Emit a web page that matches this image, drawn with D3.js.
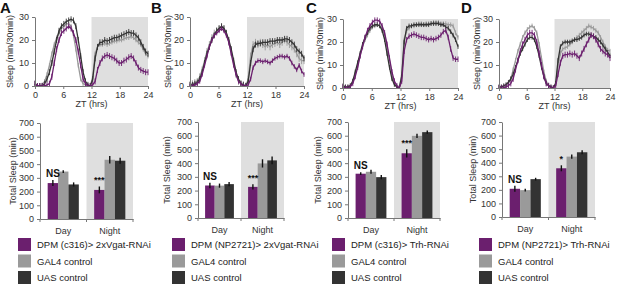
<!DOCTYPE html>
<html><head><meta charset="utf-8">
<script src="https://cdn.jsdelivr.net/npm/d3@7"></script>
<style>body{margin:0;background:#fff}svg{display:block}text{font-family:"Liberation Sans",Arial,sans-serif}</style>
</head><body><svg id="c" width="617" height="284"></svg>
<script>
// ---------- DATA ----------
const ztTicks = [0, 6, 12, 18, 24];
const sleepTicks = [0, 10, 20, 30];
const totalTicks = [0, 100, 200, 300, 400, 500, 600, 700];
const periods = ["Day", "Night"];
const seriesKeys = ["exp", "gal4", "uas"];
const seriesColors = {exp: "#6b1f6e", gal4: "#9a9a9a", uas: "#333333"};
const panelLetters = ["A", "B", "C", "D"];
const legendExp = ["DPM (c316)> 2xVgat-RNAi", "DPM (NP2721)> 2xVgat-RNAi", "DPM (c316)> Trh-RNAi", "DPM (NP2721)> Trh-RNAi"];
const legendCtrl = ["GAL4 control", "UAS control"];
const sigLabels = [["NS", "***"], ["NS", "***"], ["NS", "***"], ["NS", "*"]];

// sleep profiles, 48 half-hour bins (ZT 0 .. 23.5)
const lineA_exp = [1,0,0,0,0,0.5,1,4,10,16,20,23,24,25,26,25,23,20,15,9,3,1,0,0,
  0.5,2,7,10,12,13,13.5,13,12.5,12,11,10,10,11,11.5,12.5,13,12,10,8,7,6.5,6,6];
const lineA_gal4 = [1,0,0,0.5,2,5,9,14,18,21,23,25,26,27,27,26,22,16,9,3,1,0.5,0,0,
  4,14,17,18,18,18.5,18,18.5,19,19.5,19.5,20,20,20.5,21,21,21.5,21,20,19,18,16,14,13];
const lineA_uas = [1,0,0,0,1,3,6,10,15,20,24,26,27,28,28.5,29,28.5,26,20,13,6,2,0.5,0,
  3,12,17,19,19,20,19.5,20,20.5,21,21,21.5,22,22.5,23,23.5,23,23,22,21,19,17,15,14];

const lineB_exp = [0,0,0.5,1,2,5,9,13,17,20,22,23,24,25,24,22,19,14,9,5,2,1,0,0,
  0.5,3,8,10,11,11,10.5,11,10.5,10,11,12,12.5,13,13,12.5,13,12,10,8.5,7,9,6.5,5];
const lineB_gal4 = [0.5,1,1.5,2,4,7,11,15,18,21,23,24,25,25.5,25,23,19,15,10,5,2,1,0.5,0,
  3,13,18,19,18,19,18,17,18,17,18,18.5,19,18,19,20,19,18,17,16,14,12,11,11];
const lineB_uas = [0.5,0.5,1,1.5,3,6,10,14,17,20,22,24,25,26,25,23,20,16,11,6,3,1,0.5,0,
  2,10,16,18,18.5,18.5,19,19,19,19.5,19.5,19.5,20,20,20,20.5,20.5,20,19,18,16,15,14,12];

const lineC_exp = [0.5,0,0,0.5,2,5,9,14,18,22,25,27,28.5,29.5,29.5,29,27,24,19,13,7,3,1,0,
  3,16,21,22.5,23,23.5,23,22.5,22,22,21.5,21,21.5,21,21.5,22,23,24.5,25,22,17,13,12.5,12.5];
const lineC_gal4 = [0.5,0.5,0.5,1,3,6,10,14,18,21,23,25,26.5,27,27.5,27,26,23,18,12,6,2,0.5,0,
  6,21,25,26,27,27,27.5,28,28,27.5,28,28,28,28.5,28.5,28.5,28,28,28,27.5,27.5,27,24,22];
const lineC_uas = [1,0.5,0.5,1,3,7,11,15,19,22,24,26,27,27.5,27.5,27,25,21,15,9,4,1.5,0.5,0,
  5,20,26,27,27,27.5,27.5,27.5,27.5,27.5,27.5,27.5,28,28,28,28,27.5,27.5,26.5,26,24.5,23,21,18];

const lineD_exp = [0,0,0,0.5,1,2,4,8,12,16,19,21,23,24,24,23,20,15,10,5,2,1,0,0,
  1,6,11,14,14.5,14.5,15,14.5,15,14,13,15,17,19,21,23,22.5,21,19,17,16,15,14.5,13];
const lineD_gal4 = [0.5,0.5,0.5,1,2,4,8,12,16,19,22,24,25.5,26.5,27,26,24,19,13,7,3,1,0.5,0,
  2,10,15,17,17.5,18,19,20,21,22,23,24,25,26,27,26.5,26,25,24,22,20,18,16.5,16];
const lineD_uas = [0.5,0.5,1,1.5,2.5,4,6,9,12,15,17,19,21,22,22,21,18,14,9,5,2,1,0.5,0,
  2,12,18,19.5,20,20,20,20.5,21,21,21.5,22,23,23.5,23.5,23,22.5,22,21,20,18.5,17,15.5,14];

// per-series SEM of the sleep profiles (min/30min)
const semA = [1.3, 1.0, 1.3];
const semB = [1.0, 1.5, 1.3];
const semC = [1.2, 1.0, 1.0];
const semD = [1.3, 1.0, 1.0];

// total sleep (min): [Day, Night]
const barA_exp = [262, 212], barA_gal4 = [346, 432], barA_uas = [252, 425];
const errA_exp = [22, 25], errA_gal4 = [10, 28], errA_uas = [15, 22];
const barB_exp = [237, 227], barB_gal4 = [236, 398], barB_uas = [247, 420];
const errB_exp = [20, 20], errB_gal4 = [15, 30], errB_uas = [15, 28];
const barC_exp = [323, 472], barC_gal4 = [337, 599], barC_uas = [298, 626];
const errC_exp = [10, 30], errC_gal4 = [15, 15], errC_uas = [15, 12];
const barD_exp = [208, 359], barD_gal4 = [198, 445], barD_uas = [279, 477];
const errD_exp = [22, 22], errD_gal4 = [10, 15], errD_uas = [10, 15];

const lineData = [[lineA_exp, lineA_gal4, lineA_uas],[lineB_exp, lineB_gal4, lineB_uas],
  [lineC_exp, lineC_gal4, lineC_uas],[lineD_exp, lineD_gal4, lineD_uas]];
const semData = [semA, semB, semC, semD];
const barData = [[barA_exp, barA_gal4, barA_uas],[barB_exp, barB_gal4, barB_uas],
  [barC_exp, barC_gal4, barC_uas],[barD_exp, barD_gal4, barD_uas]];
const errData = [[errA_exp, errA_gal4, errA_uas],[errB_exp, errB_gal4, errB_uas],
  [errC_exp, errC_gal4, errC_uas],[errD_exp, errD_gal4, errD_uas]];

// ---------- LAYOUT ----------
const layout = [
  {lx:0,   line:{x0:35,  x1:148, y0:17, y1:86, ylx:10},  bar:{x0:40,  x1:133, y0:123, y1:219, ylx:13},  legX:18},
  {lx:151, line:{x0:190, x1:304, y0:17, y1:86, ylx:168}, bar:{x0:198, x1:284, y0:122, y1:218, ylx:167}, legX:172},
  {lx:306, line:{x0:343, x1:458, y0:19, y1:88, ylx:320}, bar:{x0:348, x1:440, y0:122, y1:218, ylx:318}, legX:332},
  {lx:461, line:{x0:499, x1:610, y0:19, y1:88, ylx:477}, bar:{x0:502, x1:595, y0:122, y1:217, ylx:473}, legX:479}
];
const shadeColor = "#dfdfdf", axisColor = "#777", textColor = "#333";

const svg = d3.select("#c");

function styleAxis(g) {
  g.selectAll(".domain").attr("stroke", axisColor);
  g.selectAll(".tick line").attr("stroke", axisColor);
  g.selectAll(".tick text").attr("fill", textColor).attr("font-size", 9);
}

layout.forEach((P, pi) => {
  const g = svg.append("g");
  g.append("text").attr("x", P.lx).attr("y", 13).attr("font-size", 15).attr("font-weight", "bold")
    .attr("fill", "#111").text(panelLetters[pi]);

  // ---- line chart ----
  const L = P.line;
  const x = d3.scaleLinear().domain([0, 24]).range([L.x0, L.x1]);
  const y = d3.scaleLinear().domain([0, 30]).range([L.y1, L.y0]);
  g.append("rect").attr("x", x(12)).attr("y", y(30)).attr("width", x(24) - x(12)).attr("height", y(0) - y(30))
    .attr("fill", shadeColor);
  const binX = i => x(i * 24 / 47);
  [1, 2, 0].forEach(si => {
    const vals = lineData[pi][si], sem = semData[pi][si], col = seriesColors[seriesKeys[si]];
    g.append("g").selectAll("line").data(vals).join("line")
      .attr("x1", (d, i) => binX(i)).attr("x2", (d, i) => binX(i))
      .attr("y1", d => y(Math.max(0, d - sem))).attr("y2", d => y(d + sem))
      .attr("stroke", col).attr("stroke-width", 0.9);
    g.append("path").datum(vals)
      .attr("d", d3.line().x((d, i) => binX(i)).y(d => y(d)))
      .attr("fill", "none").attr("stroke", col).attr("stroke-width", 1.3);
  });
  const gx = g.append("g").attr("transform", `translate(0,${L.y1})`)
    .call(d3.axisBottom(x).tickValues(ztTicks).tickSize(3).tickPadding(3).tickSizeOuter(0));
  styleAxis(gx);
  const gy = g.append("g").attr("transform", `translate(${L.x0},0)`)
    .call(d3.axisLeft(y).tickValues(sleepTicks).tickSize(3).tickPadding(3).tickSizeOuter(0));
  styleAxis(gy);
  g.append("text").attr("x", (L.x0 + L.x1) / 2).attr("y", L.y1 + 21).attr("text-anchor", "middle")
    .attr("font-size", 9).attr("fill", textColor).text("ZT (hrs)");
  g.append("text").attr("transform", `translate(${L.ylx + 3},${(L.y0 + L.y1) / 2}) rotate(-90)`)
    .attr("text-anchor", "middle").attr("font-size", 9).attr("fill", textColor).text("Sleep (min/30min)");

  // ---- bar chart ----
  const B = P.bar;
  const xb = d3.scaleBand().domain(periods).range([B.x0, B.x1]).padding(0);
  const xs = d3.scaleBand().domain(seriesKeys).range([xb.bandwidth() * 0.165, xb.bandwidth() * 0.835]).padding(0);
  const yb = d3.scaleLinear().domain([0, 700]).range([B.y1, B.y0]);
  g.append("rect").attr("x", xb("Night")).attr("y", yb(700)).attr("width", xb.bandwidth()).attr("height", yb(0) - yb(700))
    .attr("fill", shadeColor);
  seriesKeys.forEach((k, si) => {
    const vals = barData[pi][si], errs = errData[pi][si];
    const gg = g.append("g");
    gg.selectAll("rect").data(periods).join("rect")
      .attr("x", p => xb(p) + xs(k)).attr("width", xs.bandwidth())
      .attr("y", (p, j) => yb(vals[j])).attr("height", (p, j) => yb(0) - yb(vals[j]))
      .attr("fill", seriesColors[k]);
    gg.selectAll("line").data(periods).join("line")
      .attr("x1", p => xb(p) + xs(k) + xs.bandwidth() / 2).attr("x2", p => xb(p) + xs(k) + xs.bandwidth() / 2)
      .attr("y1", (p, j) => yb(vals[j] - errs[j])).attr("y2", (p, j) => yb(vals[j] + errs[j]))
      .attr("stroke", "#111").attr("stroke-width", 1.4);
  });
  // significance
  g.selectAll(".sig").data(periods).join("text")
    .attr("x", p => xb(p) + xs("exp") + xs.bandwidth() / 2)
    .attr("y", (p, j) => yb(barData[pi][0][j] + errData[pi][0][j]) - 3)
    .attr("text-anchor", "middle").attr("font-size", (p, j) => sigLabels[pi][j] === "NS" ? 10 : 9)
    .attr("font-weight", "bold").attr("fill", "#111").text((p, j) => sigLabels[pi][j]);
  const gby = g.append("g").attr("transform", `translate(${B.x0},0)`)
    .call(d3.axisLeft(yb).tickValues(totalTicks).tickSize(3).tickPadding(3).tickSizeOuter(0));
  styleAxis(gby);
  const gbx = g.append("g").attr("transform", `translate(0,${B.y1})`)
    .call(d3.axisBottom(xb).tickSize(0).tickPadding(9).tickSizeOuter(0));
  styleAxis(gbx);
  gbx.selectAll(".tick text").attr("dy", "0.71em");
  gbx.selectAll(".bnd").data([B.x0, xb("Night"), B.x1]).join("line").attr("class", "bnd")
    .attr("x1", d => d).attr("x2", d => d).attr("y1", 0).attr("y2", 3).attr("stroke", axisColor);
  g.append("text").attr("transform", `translate(${B.ylx + 3},${(B.y0 + B.y1) / 2}) rotate(-90)`)
    .attr("text-anchor", "middle").attr("font-size", 9).attr("fill", textColor).text("Total Sleep (min)");

  // ---- legend ----
  const labels = [legendExp[pi], legendCtrl[0], legendCtrl[1]];
  const lg = g.append("g");
  seriesKeys.forEach((k, si) => {
    const yy = 238 + si * 16.5;
    lg.append("rect").attr("x", P.legX).attr("y", yy).attr("width", 13).attr("height", 13).attr("fill", seriesColors[k]);
    lg.append("text").attr("x", P.legX + 19).attr("y", yy + 10).attr("font-size", 9.5).attr("fill", "#222").text(labels[si]);
  });
});
</script></body></html>
